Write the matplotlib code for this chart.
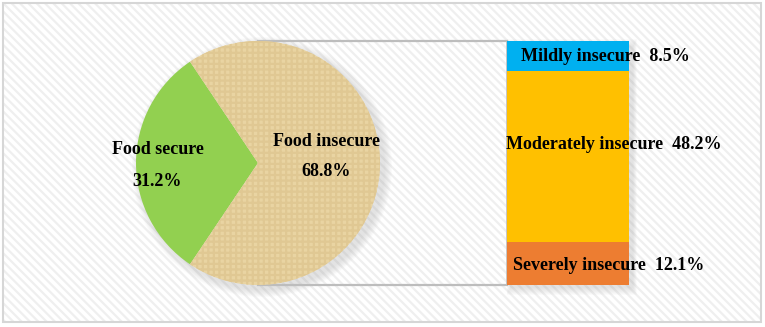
import matplotlib
matplotlib.use("Agg")
import matplotlib.pyplot as plt
from matplotlib.patches import Rectangle, Circle

# ---- data ----
pie_labels = ["Food secure", "Food insecure"]
pie_values = [31.2, 68.8]
pie_colors = ["#92D050", "#E9D4A2"]

bar_labels = ["Severely insecure", "Moderately insecure", "Mildly insecure"]
bar_values = [12.1, 48.2, 8.5]
bar_colors = ["#ED7D31", "#FFC000", "#00B0F0"]

W, H = 765, 327
fig = plt.figure(figsize=(W / 100, H / 100), dpi=100)
plt.rcParams['hatch.linewidth'] = 1.6

# background axes in pixel units (y down)
bg = fig.add_axes([0, 0, 1, 1])
bg.set_xlim(0, W)
bg.set_ylim(H, 0)
bg.axis("off")
bg.add_patch(Rectangle((0, 0), W, H, facecolor="white", edgecolor="none", zorder=0))
bg.add_patch(Rectangle((3, 3), 758, 319, facecolor="white", edgecolor="#EFEFEF",
                       hatch="\\\\\\\\", lw=0, zorder=1))
bg.add_patch(Rectangle((3, 3), 758, 319, facecolor="none", edgecolor="#D6D6D6",
                       lw=1.5, zorder=2))

# geometry
pcx, pcy, pr = 258, 163, 122
bx0, bx1, by0, by1 = 507, 629, 41, 285

# soft shadows
for k in range(8):
    bg.add_patch(Circle((pcx + 4, pcy + 4), pr + 8 - k, facecolor="#9A9A9A",
                        edgecolor="none", alpha=0.035, zorder=3))
    bg.add_patch(Rectangle((bx0 + k * 0.5, by0 - 2 + k),
                           (bx1 - bx0) + 8 - k, (by1 - by0) + 12 - 2 * k,
                           facecolor="#9A9A9A", edgecolor="none", alpha=0.035, zorder=3))

# connecting lines
bg.plot([pcx, bx0], [by0, by0], color="#BDBDBD", lw=1.6, zorder=4)
bg.plot([pcx, bx0], [by1, by1], color="#BDBDBD", lw=1.6, zorder=4)
bg.plot([bx0, bx0], [by0, by1], color="#BDBDBD", lw=1.2, zorder=4)

# pie axes
pax = fig.add_axes([(pcx - pr) / W, (H - pcy - pr) / H, 2 * pr / W, 2 * pr / H])
pax.set_zorder(5)
start = 180 - pie_values[0] / 100 * 360 / 2
wedges, _ = pax.pie(pie_values, colors=pie_colors, startangle=start, counterclock=True,
                    radius=1, wedgeprops=dict(linewidth=0))
plt.rcParams['hatch.linewidth'] = 0.5
wedges[1].set_hatch("+++")
wedges[1].set_edgecolor("#E0C893")
wedges[1].set_linewidth(0)
pax.set_xlim(-1, 1)
pax.set_ylim(-1, 1)
pax.axis("off")

# bar axes
bax = fig.add_axes([bx0 / W, (H - by1) / H, (bx1 - bx0) / W, (by1 - by0) / H])
bax.set_zorder(6)
bottom = 0
for lab, v, c in zip(bar_labels, bar_values, bar_colors):
    bax.bar([0], [v], bottom=bottom, width=1, color=c, linewidth=0)
    bottom += v
bax.set_xlim(-0.5, 0.5)
bax.set_ylim(0, sum(bar_values))
bax.axis("off")

font = dict(family="Liberation Serif", weight="bold", color="black")
fs = 13

# overlay axes for text (pixel units)
top = fig.add_axes([0, 0, 1, 1])
top.set_zorder(20)
top.patch.set_visible(False)
top.set_xlim(0, W)
top.set_ylim(H, 0)
top.axis("off")

top.text(158, 149, pie_labels[0], ha="center", va="center", fontsize=fs, **font)
top.text(157, 182, f"{pie_values[0]}%", ha="center", va="center", fontsize=fs, **font)
top.text(327, 141, pie_labels[1], ha="center", va="center", fontsize=fs, **font)
top.text(326, 172, f"{pie_values[1]}%", ha="center", va="center", fontsize=fs, **font)

# bar labels (x start in pixels, y in bar data units)
lab_pos = {"Severely insecure": (513, 5.4), "Moderately insecure": (506, 39.5),
           "Mildly insecure": (521, 64.3)}
for lab, v in zip(bar_labels, bar_values):
    xs, yv = lab_pos[lab]
    bax.text((xs - bx0) / (bx1 - bx0) - 0.5, yv, f"{lab}  {v}%", ha="left", va="center",
             fontsize=fs, clip_on=False, zorder=10, **font)

fig.savefig("out.png", dpi=100)
